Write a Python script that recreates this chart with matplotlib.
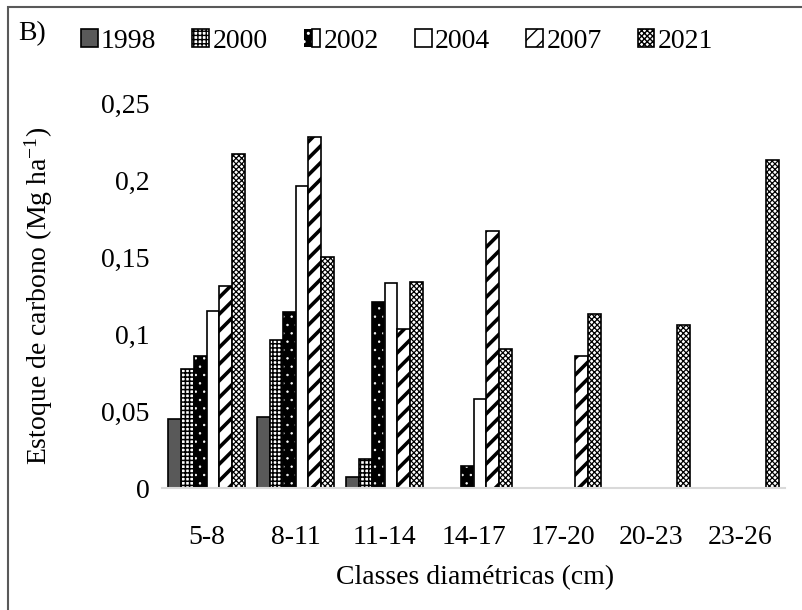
import matplotlib
matplotlib.use('Agg')
import matplotlib.pyplot as plt
from matplotlib.patches import Rectangle
from matplotlib.legend_handler import HandlerTuple
import numpy as np

# Dados
classes = ['5-8', '8-11', '11-14', '14-17', '17-20', '20-23', '23-26']
anos = ['1998', '2000', '2002', '2004', '2007', '2021']
v1998 = [0.045, 0.046, 0.007, 0, 0, 0, 0]
v2000 = [0.077, 0.096, 0.019, 0, 0, 0, 0]
v2002 = [0.086, 0.114, 0.121, 0.014, 0, 0, 0]
v2004 = [0.115, 0.196, 0.133, 0.058, 0, 0, 0]
v2007 = [0.131, 0.228, 0.103, 0.167, 0.086, 0, 0]
v2021 = [0.217, 0.150, 0.134, 0.090, 0.113, 0.106, 0.213]
yticks = [0, 0.05, 0.1, 0.15, 0.2, 0.25]
ytick_labels = ['0', '0,05', '0,1', '0,15', '0,2', '0,25']

plt.rcParams['font.family'] = ['Liberation Serif', 'DejaVu Serif']
plt.rcParams['mathtext.fontset'] = 'custom'
plt.rcParams['mathtext.rm'] = 'Liberation Serif'
plt.rcParams['mathtext.it'] = 'Liberation Serif'

FS = 20

fig = plt.figure(figsize=(8.02, 6.10), dpi=100)
ax = fig.add_axes([162 / 802, 1 - 488 / 610, 623 / 802, 385 / 610])

x = np.arange(len(classes))
w = 0.146
off = (np.arange(6) - 2.5) * w


def hatch_lw(bars, lw):
    for b in bars:
        if hasattr(b, 'set_hatch_linewidth'):
            b.set_hatch_linewidth(lw)


# 1998 - cinza escuro
b1 = ax.bar(x + off[0], v1998, w, color='#595959', edgecolor='black', lw=1.2)
# 2000 - quadriculado
with plt.rc_context({'hatch.linewidth': 1.1}):
    b2 = ax.bar(x + off[1], v2000, w, color='white', edgecolor='black', lw=1.2, hatch='++++')
hatch_lw(b2, 1.1)
# 2002 - preto com pontos brancos
with plt.rc_context({'hatch.linewidth': 0.5}):
    b3a = ax.bar(x + off[2], v2002, w, color='black', edgecolor='white', lw=0, hatch='..')
hatch_lw(b3a, 0.5)
b3b = ax.bar(x + off[2], v2002, w, fill=False, edgecolor='black', lw=1.2)
# 2004 - branco
b4 = ax.bar(x + off[3], v2004, w, color='white', edgecolor='black', lw=1.2)
# 2007 - listras diagonais
with plt.rc_context({'hatch.linewidth': 2.6}):
    b5 = ax.bar(x + off[4], v2007, w, color='white', edgecolor='black', lw=1.2, hatch='//')
hatch_lw(b5, 2.6)
# 2021 - xadrez fino
with plt.rc_context({'hatch.linewidth': 0.9}):
    b6 = ax.bar(x + off[5], v2021, w, color='white', edgecolor='black', lw=1.2, hatch='xxxxxx')
hatch_lw(b6, 0.9)

ax.set_xlim(-0.5, len(classes) - 0.5)
ax.set_ylim(0, 0.25)
ax.set_yticks(yticks)
ax.set_yticklabels(ytick_labels)
ax.set_xticks(x)
ax.set_xticklabels(classes)
ax.tick_params(axis='both', length=0, labelsize=FS)
ax.tick_params(axis='y', pad=9)
ax.tick_params(axis='x', pad=27)
for s in ['top', 'right', 'left']:
    ax.spines[s].set_visible(False)
ax.spines['bottom'].set_color('#d9d9d9')
ax.spines['bottom'].set_linewidth(1.5)

ax.set_ylabel('Estoque de carbono (Mg ha$^{\\mathrm{-1}}$)', fontsize=FS)
ax.yaxis.set_label_coords(-0.172, 0.5)
ax.set_xlabel('Classes diamétricas (cm)', fontsize=FS)
ax.xaxis.set_label_coords(0.502, -0.2)

handles = [b1, b2, (b3a, b3b), b4, b5, b6]
fig.legend(handles, anos, loc='center', bbox_to_anchor=(0.495, 1 - 41 / 610), ncol=6,
           frameon=False, fontsize=FS, handlelength=0.6, handleheight=0.6,
           handletextpad=0.12, columnspacing=1.3,
           handler_map={tuple: HandlerTuple(ndivide=None, pad=0)})

fig.text(18 / 802, 1 - 34 / 610, 'B)', fontsize=FS, va='center', ha='left')

# moldura externa
fig.patches.append(Rectangle((8 / 802, -0.1), 1.2, 1.1 - 7 / 610, transform=fig.transFigure,
                             fill=False, edgecolor='#595959', lw=1.5))

plt.savefig('out.png', dpi=100)
plt.close()
